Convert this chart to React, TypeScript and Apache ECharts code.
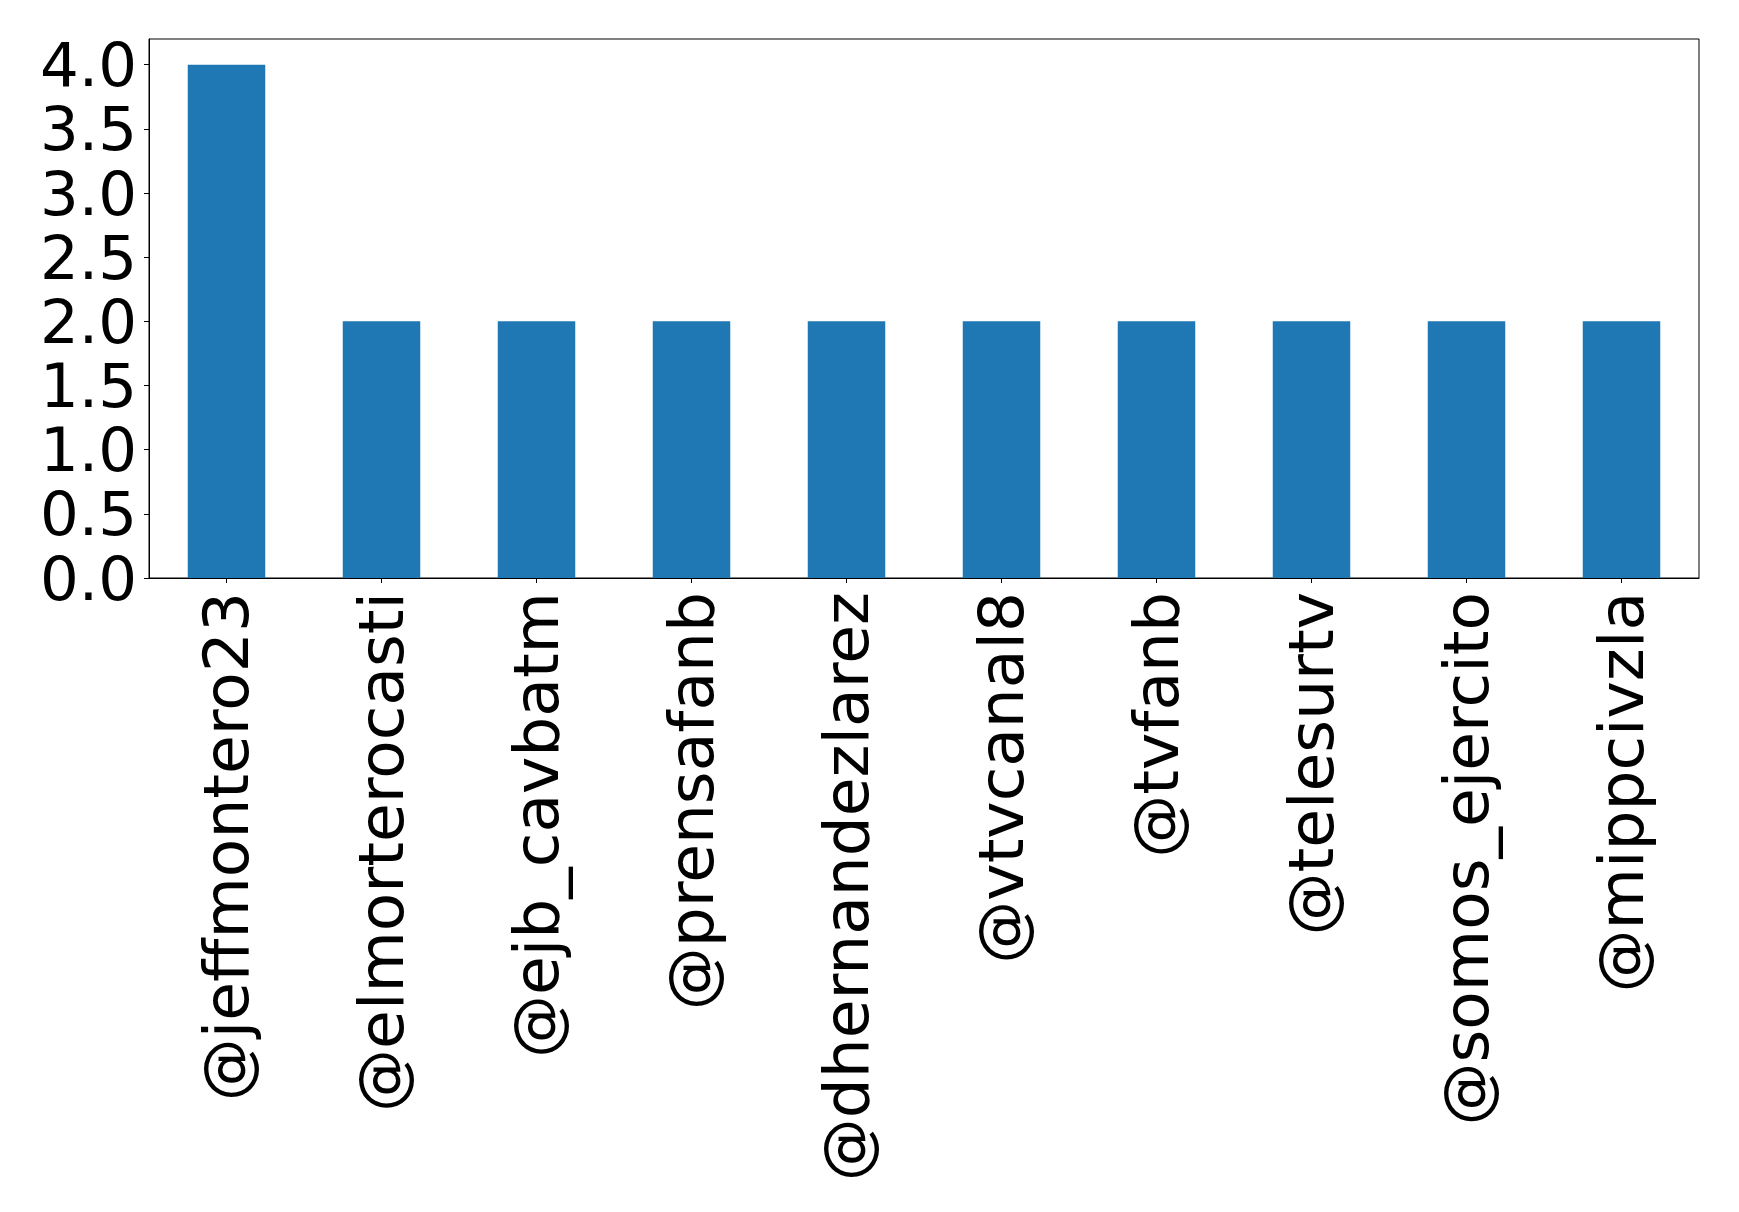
import React, { useEffect, useRef } from "react";
import * as echarts from "echarts";

const categories = [
  "@jeffmontero23",
  "@elmorterocasti",
  "@ejb_cavbatm",
  "@prensafanb",
  "@dhernandezlarez",
  "@vtvcanal8",
  "@tvfanb",
  "@telesurtv",
  "@somos_ejercito",
  "@mippcivzla",
];
const values = [4, 2, 2, 2, 2, 2, 2, 2, 2, 2];
const yTicks = [0, 0.5, 1.0, 1.5, 2.0, 2.5, 3.0, 3.5, 4.0];
const yMax = 4.2;

export default function App() {
  const ref = useRef<HTMLDivElement>(null);
  useEffect(() => {
    if (!ref.current) return;
    const chart = echarts.init(ref.current, null, { renderer: "svg" });
    const font = "DejaVu Sans";
    chart.setOption({
      animation: false,
      backgroundColor: "#ffffff",
      grid: {
        left: 149,
        top: 39,
        right: 40,
        bottom: 634,
        show: true,
        borderColor: "#000",
        borderWidth: 1,
        backgroundColor: "transparent",
      },
      xAxis: {
        type: "category",
        data: categories,
        boundaryGap: true,
        axisLine: { show: true, lineStyle: { color: "#000", width: 1 } },
        axisTick: { show: true, alignWithLabel: true, length: 5, lineStyle: { color: "#000", width: 1 } },
        axisLabel: {
          rotate: 90,
          interval: 0,
          margin: 14,
          fontSize: 63,
          fontFamily: font,
          color: "#000",
        },
        splitLine: { show: false },
      },
      yAxis: {
        type: "value",
        min: 0,
        max: yMax,
        axisLine: { show: true, lineStyle: { color: "#000", width: 1 } },
        axisTick: {
          show: true,
          length: 5,
          lineStyle: { color: "#000", width: 1 },
          customValues: yTicks,
        },
        axisLabel: {
          margin: 12,
          fontSize: 61,
          fontFamily: font,
          color: "#000",
          customValues: yTicks,
          formatter: (v: number) => v.toFixed(1),
        },
        splitLine: { show: false },
      },
      series: [
        {
          type: "bar",
          data: values,
          barWidth: "50%",
          itemStyle: { color: "#1f77b4" },
        },
      ],
    });
    return () => chart.dispose();
  }, []);
  return (
    <div
      ref={ref}
      style={{ position: "fixed", left: 0, top: 0, width: 1739, height: 1212, background: "#fff" }}
    />
  );
}
